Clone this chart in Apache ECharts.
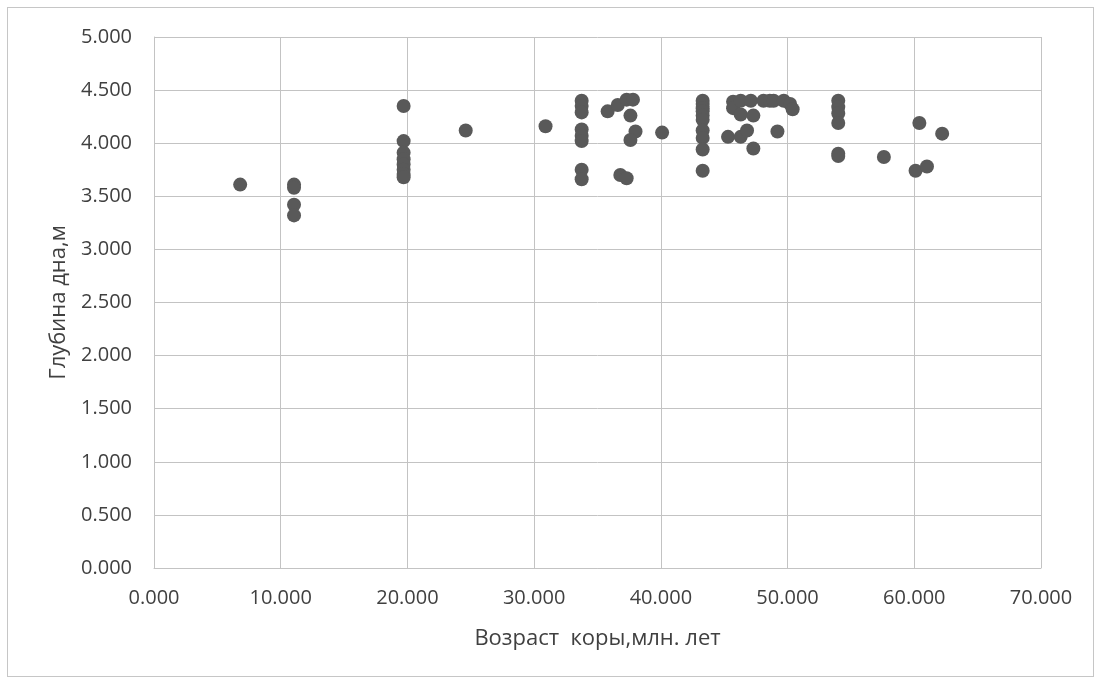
<!DOCTYPE html>
<html><head><meta charset="utf-8">
<script src="https://cdn.jsdelivr.net/npm/echarts@6/dist/echarts.min.js"></script>
<style>
html,body{margin:0;padding:0;background:#fff;}
#frame{position:absolute;left:7px;top:7px;width:1087px;height:670px;border:1px solid #c6c6c6;box-sizing:border-box;}
#c{position:absolute;left:0;top:0;width:1102px;height:682px;}
</style></head>
<body>
<div id="frame"></div>
<div id="c"></div>
<script>
const xTitle = 'Возраст  коры,млн. лет';
const yTitle = 'Глубина дна,м';
const ageValues = [
  6.8,
  11.05, 11.05, 11.05, 11.05,
  19.7, 19.7, 19.7, 19.7, 19.7, 19.7, 19.7, 19.7,
  24.6, 30.9,
  33.75, 33.75, 33.75, 33.75, 33.75, 33.75, 33.75, 33.75,
  35.8, 36.6, 37.3, 37.8, 37.6, 38.0, 37.6, 36.8, 37.3,
  40.1,
  43.3, 43.3, 43.3, 43.3, 43.3, 43.3, 43.3, 43.3, 43.3, 43.3,
  45.3, 45.7, 45.7, 46.3, 46.3, 46.3, 46.8, 47.1, 47.3, 47.3, 48.1, 48.6, 48.9, 49.2, 49.7, 50.2, 50.4,
  54.0, 54.0, 54.0, 54.0, 54.0, 54.0,
  57.6, 60.1, 60.4, 61.0, 62.2
];
const depthValues = [
  3.61,
  3.61, 3.58, 3.42, 3.32,
  4.35, 4.02, 3.91, 3.85, 3.80, 3.75, 3.71, 3.68,
  4.12, 4.16,
  4.40, 4.35, 4.29, 4.13, 4.07, 4.02, 3.75, 3.66,
  4.30, 4.36, 4.41, 4.41, 4.26, 4.11, 4.03, 3.70, 3.67,
  4.10,
  4.40, 4.37, 4.33, 4.30, 4.26, 4.22, 4.12, 4.05, 3.94, 3.74,
  4.06, 4.39, 4.33, 4.40, 4.27, 4.06, 4.12, 4.40, 4.26, 3.95, 4.40, 4.40, 4.40, 4.11, 4.40, 4.37, 4.32,
  4.40, 4.34, 4.28, 4.19, 3.90, 3.88,
  3.87, 3.74, 4.19, 3.78, 4.09
];
const points = ageValues.map((a, i) => [a, depthValues[i]]);
const fmt = v => v.toFixed(3);
const txt = '#404040';
const grid = '#c3c3c3';
const chart = echarts.init(document.getElementById('c'));
chart.setOption({
  animation: false,
  grid: {left: 154, right: 61, top: 37, bottom: 114, containLabel: false},
  xAxis: {
    type: 'value', min: 0, max: 70, interval: 10,
    name: xTitle, nameLocation: 'middle', nameGap: 60,
    nameTextStyle: {color: txt, fontSize: 22, fontFamily: 'Open Sans'},
    axisLine: {show: true, lineStyle: {color: grid}},
    axisTick: {show: false},
    axisLabel: {formatter: fmt, color: txt, fontSize: 20, fontFamily: 'Open Sans', margin: 20},
    splitLine: {show: true, lineStyle: {color: grid, width: 1}}
  },
  yAxis: {
    type: 'value', min: 0, max: 5, interval: 0.5,
    name: yTitle, nameLocation: 'middle', nameGap: 83,
    nameTextStyle: {color: txt, fontSize: 22, fontFamily: 'Open Sans'},
    axisLine: {show: true, lineStyle: {color: grid}},
    axisTick: {show: false},
    axisLabel: {formatter: fmt, color: txt, fontSize: 20, fontFamily: 'Open Sans', margin: 22},
    splitLine: {show: true, lineStyle: {color: grid, width: 1}}
  },
  series: [{
    type: 'scatter',
    data: points,
    symbol: 'circle',
    symbolSize: 14,
    itemStyle: {color: '#595959', opacity: 1}
  }]
});
</script>
</body></html>
